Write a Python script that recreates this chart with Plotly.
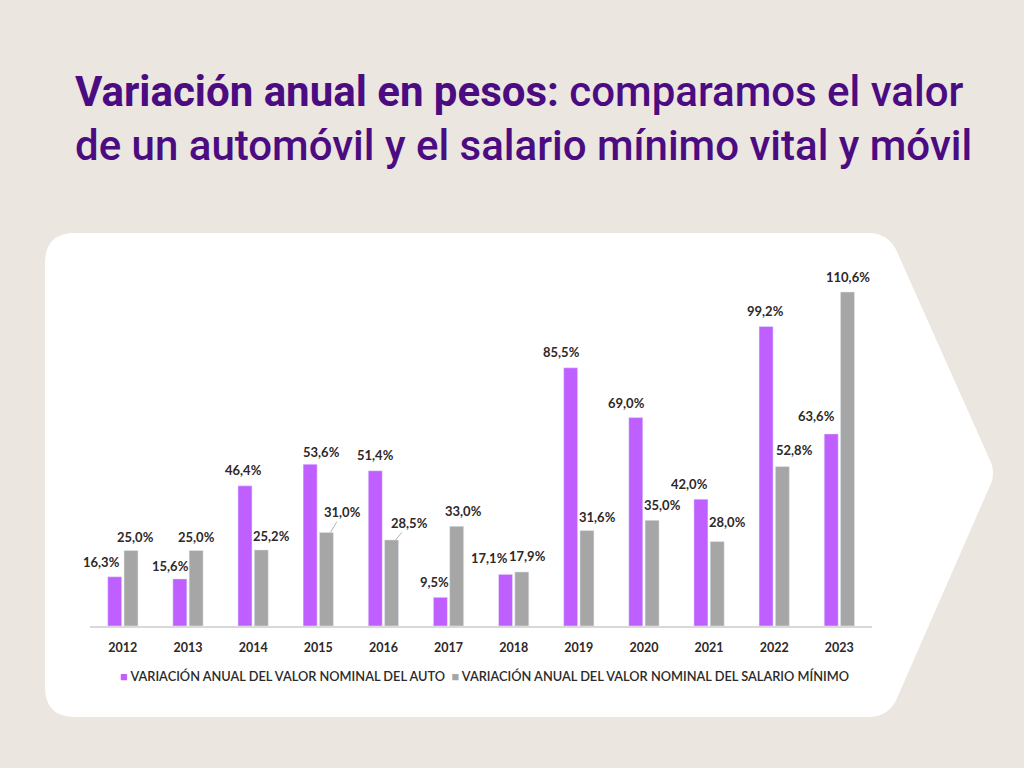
import plotly.graph_objects as go

# ---- data ----
years = ["2012", "2013", "2014", "2015", "2016", "2017", "2018", "2019", "2020", "2021", "2022", "2023"]
auto_var = [16.3, 15.6, 46.4, 53.6, 51.4, 9.5, 17.1, 85.5, 69.0, 42.0, 99.2, 63.6]
salario_var = [25.0, 25.0, 25.2, 31.0, 28.5, 33.0, 17.9, 31.6, 35.0, 28.0, 52.8, 110.6]
name_auto = "VARIACIÓN ANUAL DEL VALOR NOMINAL DEL AUTO"
name_salario = "VARIACIÓN ANUAL DEL VALOR NOMINAL DEL SALARIO MÍNIMO"
title_bold = "Variación anual en pesos:"
title_rest1 = " comparamos el valor"
title_line2 = "de un automóvil y el salario mínimo vital y móvil"

# ---- label placement tweaks (pixels) ----
auto_dx = [-13, -9, -1, 11, 0, -6, -16, -9, -9, -11, 0, -15]
auto_dy = [15, 13, 16, 12, 16, 15, 16, 16, 15, 15, 15, 18]
sal_dx = [4, 0, 10, 7, 9, 7, 6, 10, 10, 10, 12, 0]
sal_dy = [14, 14, 14, 22, 19, 15, 16, 14, 15, 19, 17, 15]
leader = [False, False, False, True, True, False, False, False, False, False, False, False]

W, H = 1024, 768
PURPLE = "#BF5FFF"
GRAY = "#A6A6A6"
TITLE_C = "#4B0C82"
LABEL_C = "#2E2828"
BG = "#EBE6DF"


def px(x):
    return x / W


def py(y):
    return 1 - y / H


def fmt(v):
    return f"{v:.1f}".replace(".", ",") + "%"


fig = go.Figure()
fig.add_trace(go.Bar(x=years, y=auto_var, name=name_auto, marker_color=PURPLE,
                     hoverinfo="skip"))
fig.add_trace(go.Bar(x=years, y=salario_var, name=name_salario, marker_color=GRAY,
                     hoverinfo="skip"))

# card shape with arrow on the right
pts = [("M", 75, 233), ("L", 868, 233), ("Q", 890, 233, 898, 254), ("L", 989, 458),
       ("Q", 997, 473, 989, 488), ("L", 898, 696), ("Q", 890, 717, 868, 717),
       ("L", 75, 717), ("Q", 45, 717, 45, 687), ("L", 45, 263), ("Q", 45, 233, 75, 233)]
path = ""
for p in pts:
    coords = p[1:]
    s = [f"{px(coords[i]):.5f},{py(coords[i+1]):.5f}" for i in range(0, len(coords), 2)]
    path += p[0] + " " + " ".join(s) + " "
path += "Z"

shapes = [dict(type="path", path=path, xref="paper", yref="paper",
               fillcolor="white", line=dict(width=0), layer="below")]

annotations = []
title_font = dict(family="Roboto", size=42, color=TITLE_C, weight=500)
annotations.append(dict(text=f"<b>{title_bold}</b>{title_rest1}", x=px(73), y=py(92),
                        xref="paper", yref="paper", xanchor="left", yanchor="middle",
                        align="left", showarrow=False, font=title_font))
annotations.append(dict(text=title_line2, x=px(73), y=py(146),
                        xref="paper", yref="paper", xanchor="left", yanchor="middle",
                        align="left", showarrow=False, font=title_font))

# legend as text line
legend_txt = (f"<span style='color:{PURPLE}'>■</span> {name_auto}  "
              f"<span style='color:{GRAY}'>■</span> {name_salario}")
annotations.append(dict(text=legend_txt, x=px(484), y=py(676), xref="paper", yref="paper",
                        xanchor="center", yanchor="middle", showarrow=False,
                        font=dict(family="Lato", size=12.8, color="#2A2A2A", weight=600)))

lab_font = dict(family="Lato", size=13, color=LABEL_C, weight="bold")
BAR_OFF = 8.2
for i, yr in enumerate(years):
    annotations.append(dict(x=i, y=auto_var[i], text=fmt(auto_var[i]), showarrow=False,
                            xshift=-BAR_OFF + auto_dx[i], yshift=auto_dy[i],
                            yanchor="middle", font=lab_font))
    if leader[i]:
        annotations.append(dict(x=i, y=salario_var[i], text=fmt(salario_var[i]),
                                showarrow=True, arrowhead=0, arrowwidth=0.8,
                                arrowcolor="#A0A0A0", xshift=BAR_OFF + 4,
                                ax=sal_dx[i] + 5, ay=-sal_dy[i] + 2,
                                standoff=0, startstandoff=0,
                                yanchor="middle", font=lab_font))
    else:
        annotations.append(dict(x=i, y=salario_var[i], text=fmt(salario_var[i]),
                                showarrow=False,
                                xshift=BAR_OFF + sal_dx[i], yshift=sal_dy[i],
                                yanchor="middle", font=lab_font))

fig.update_layout(
    width=W, height=H,
    margin=dict(l=0, r=0, t=0, b=0),
    paper_bgcolor=BG, plot_bgcolor="rgba(0,0,0,0)",
    barmode="group", bargap=0.5, bargroupgap=0.14,
    showlegend=False,
    shapes=shapes,
    annotations=annotations,
    xaxis=dict(domain=[px(90.3), px(871.9)], type="category", range=[-0.5, len(years) - 0.5],
               showline=True, linecolor="#D9D9D9", linewidth=1.5,
               ticks="", showgrid=False, zeroline=False, ticklabelstandoff=9,
               tickfont=dict(family="Lato", size=12.5, color="#2E2828", weight="bold")),
    yaxis=dict(domain=[py(626), py(250)], range=[0, 376 / 3.02],
               visible=False, showgrid=False, zeroline=False),
)

fig.write_html("out.html", config={"displayModeBar": False},
               post_script="document.body.style.margin='0';document.body.style.overflow='hidden';")
